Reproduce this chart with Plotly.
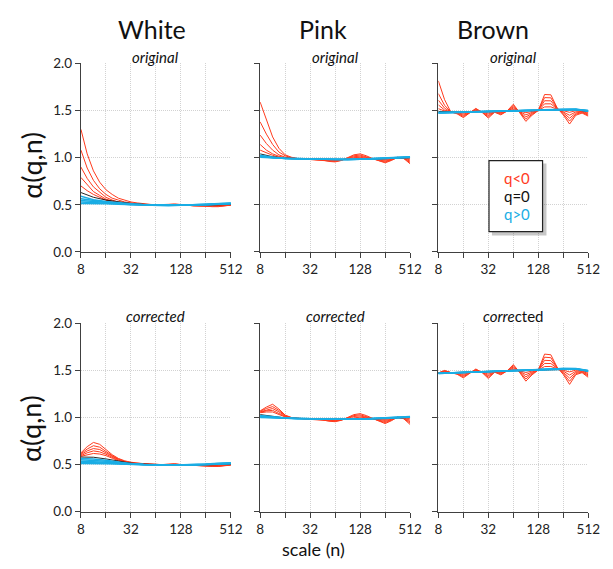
import plotly.graph_objects as go

W, H = 613, 569

# ---------------- data ----------------
# scale grids (n)
XR = [8, 9.51, 11.31, 13.45, 16, 19.03, 22.63, 26.91, 32, 38.05, 45.25, 53.82, 64,
      76.11, 90.51, 107.6, 128, 152.2, 181.0, 215.3, 256, 304.4, 362.0, 430.5, 512]
XB = [8, 11.31, 16, 22.63, 32, 45.25, 64, 90.51, 128, 181.0, 256, 362.0, 512]
tick_vals = [8, 16, 32, 64, 128, 256, 512]
tick_text = ["8", "", "32", "", "128", "", "512"]
y_ticks = [0, 0.5, 1.0, 1.5, 2.0]
y_tick_text = ["0.0", "0.5", "1.0", "1.5", "2.0"]
columns = ["White", "Pink", "Brown"]

# White, original
white_orig_neg = [
    [1.30, 1.04, 0.86, 0.74, 0.66, 0.61, 0.57, 0.55, 0.53, 0.52, 0.51, 0.505, 0.50, 0.50, 0.505, 0.51, 0.50, 0.495, 0.49, 0.49, 0.485, 0.48, 0.48, 0.49, 0.495],
    [1.08, 0.89, 0.76, 0.67, 0.61, 0.57, 0.55, 0.53, 0.52, 0.51, 0.505, 0.50, 0.50, 0.50, 0.505, 0.505, 0.50, 0.495, 0.49, 0.49, 0.485, 0.485, 0.485, 0.49, 0.495],
    [0.90, 0.78, 0.69, 0.63, 0.58, 0.55, 0.53, 0.52, 0.51, 0.505, 0.50, 0.50, 0.50, 0.50, 0.50, 0.505, 0.50, 0.495, 0.49, 0.49, 0.49, 0.485, 0.485, 0.49, 0.50],
    [0.79, 0.71, 0.64, 0.60, 0.56, 0.54, 0.52, 0.51, 0.505, 0.50, 0.50, 0.50, 0.50, 0.50, 0.50, 0.50, 0.50, 0.495, 0.49, 0.49, 0.49, 0.49, 0.49, 0.495, 0.50],
    [0.70, 0.65, 0.61, 0.58, 0.55, 0.53, 0.52, 0.51, 0.505, 0.50, 0.50, 0.50, 0.50, 0.50, 0.50, 0.50, 0.50, 0.495, 0.49, 0.49, 0.49, 0.49, 0.49, 0.495, 0.50],
]
white_orig_zero = [0.63, 0.58, 0.55, 0.53, 0.515, 0.505, 0.50, 0.50, 0.495, 0.495, 0.495, 0.50, 0.505]
white_orig_pos = [
    [0.59, 0.555, 0.535, 0.52, 0.51, 0.50, 0.50, 0.495, 0.495, 0.495, 0.50, 0.505, 0.51],
    [0.565, 0.545, 0.53, 0.515, 0.505, 0.50, 0.495, 0.495, 0.495, 0.495, 0.50, 0.505, 0.512],
    [0.545, 0.535, 0.52, 0.51, 0.505, 0.50, 0.495, 0.495, 0.495, 0.495, 0.50, 0.508, 0.515],
    [0.53, 0.525, 0.515, 0.51, 0.50, 0.50, 0.495, 0.495, 0.495, 0.50, 0.505, 0.51, 0.517],
    [0.515, 0.515, 0.51, 0.505, 0.50, 0.495, 0.495, 0.49, 0.495, 0.50, 0.505, 0.512, 0.52],
]

# Pink, original
pink_orig_neg = [
    [1.59, 1.40, 1.22, 1.10, 1.03, 1.005, 0.99, 0.985, 0.98, 0.98, 0.975, 0.96, 0.955, 0.97, 1.0, 1.03, 1.04, 1.02, 0.99, 0.965, 0.945, 0.97, 1.005, 0.99, 0.935],
    [1.38, 1.25, 1.14, 1.06, 1.02, 1.0, 0.99, 0.985, 0.981, 0.981, 0.976, 0.964, 0.96, 0.972, 0.996, 1.02, 1.028, 1.012, 0.989, 0.969, 0.954, 0.974, 1.003, 0.992, 0.948],
    [1.24, 1.15, 1.08, 1.03, 1.005, 0.995, 0.99, 0.985, 0.982, 0.982, 0.977, 0.968, 0.965, 0.974, 0.992, 1.01, 1.016, 1.004, 0.988, 0.973, 0.963, 0.978, 1.001, 0.994, 0.961],
    [1.14, 1.08, 1.04, 1.015, 1.0, 0.99, 0.99, 0.985, 0.983, 0.983, 0.978, 0.972, 0.97, 0.976, 0.988, 1.0, 1.004, 0.996, 0.987, 0.977, 0.972, 0.982, 0.999, 0.996, 0.974],
    [1.08, 1.05, 1.025, 1.005, 0.995, 0.99, 0.99, 0.985, 0.984, 0.984, 0.979, 0.976, 0.975, 0.978, 0.984, 0.99, 0.992, 0.988, 0.986, 0.981, 0.981, 0.986, 0.997, 0.998, 0.987],
]
pink_orig_zero = [1.04, 1.01, 0.995, 0.99, 0.985, 0.98, 0.98, 0.98, 0.98, 0.985, 0.99, 0.995, 1.0]
pink_orig_pos = [
    [1.025, 1.005, 0.995, 0.99, 0.985, 0.98, 0.98, 0.98, 0.98, 0.985, 0.99, 0.998, 1.002],
    [1.02, 1.0, 0.993, 0.988, 0.985, 0.982, 0.98, 0.98, 0.982, 0.986, 0.992, 1.0, 1.004],
    [1.015, 1.0, 0.992, 0.988, 0.985, 0.982, 0.98, 0.98, 0.983, 0.987, 0.993, 1.002, 1.006],
    [1.01, 0.998, 0.99, 0.987, 0.985, 0.982, 0.981, 0.981, 0.984, 0.988, 0.995, 1.003, 1.008],
    [1.005, 0.997, 0.99, 0.987, 0.985, 0.983, 0.982, 0.982, 0.985, 0.99, 0.997, 1.005, 1.01],
]

# Brown, original
brown_orig_neg = [
    [1.815, 1.615, 1.485, 1.465, 1.425, 1.477, 1.523, 1.48, 1.42, 1.482, 1.454, 1.495, 1.567, 1.478, 1.385, 1.45, 1.502, 1.67, 1.667, 1.53, 1.452, 1.357, 1.45, 1.473, 1.44],
    [1.68, 1.555, 1.485, 1.469, 1.437, 1.479, 1.516, 1.482, 1.434, 1.484, 1.462, 1.495, 1.553, 1.482, 1.408, 1.46, 1.502, 1.637, 1.635, 1.526, 1.464, 1.388, 1.462, 1.479, 1.45],
    [1.61, 1.525, 1.485, 1.473, 1.449, 1.481, 1.509, 1.484, 1.448, 1.486, 1.47, 1.495, 1.539, 1.486, 1.431, 1.47, 1.502, 1.604, 1.603, 1.522, 1.476, 1.419, 1.474, 1.485, 1.46],
    [1.56, 1.505, 1.485, 1.477, 1.461, 1.483, 1.502, 1.486, 1.462, 1.488, 1.478, 1.495, 1.525, 1.49, 1.454, 1.48, 1.502, 1.571, 1.571, 1.518, 1.488, 1.45, 1.486, 1.491, 1.47],
    [1.52, 1.495, 1.485, 1.481, 1.473, 1.485, 1.495, 1.488, 1.476, 1.49, 1.486, 1.495, 1.511, 1.494, 1.477, 1.49, 1.502, 1.538, 1.539, 1.514, 1.5, 1.481, 1.498, 1.497, 1.48],
]
brown_orig_zero = [1.49, 1.485, 1.485, 1.488, 1.49, 1.494, 1.497, 1.5, 1.502, 1.507, 1.51, 1.508, 1.49]
brown_orig_pos = [
    [1.48, 1.482, 1.484, 1.487, 1.49, 1.494, 1.497, 1.5, 1.503, 1.508, 1.512, 1.51, 1.493],
    [1.478, 1.481, 1.484, 1.487, 1.49, 1.494, 1.498, 1.501, 1.504, 1.509, 1.513, 1.511, 1.495],
    [1.476, 1.48, 1.484, 1.487, 1.491, 1.495, 1.498, 1.502, 1.505, 1.51, 1.514, 1.512, 1.497],
    [1.475, 1.479, 1.483, 1.487, 1.491, 1.495, 1.499, 1.502, 1.506, 1.511, 1.515, 1.513, 1.498],
    [1.474, 1.478, 1.483, 1.487, 1.491, 1.495, 1.499, 1.503, 1.507, 1.512, 1.516, 1.514, 1.5],
]

# White, corrected
white_corr_neg = [
    [0.625, 0.69, 0.735, 0.715, 0.66, 0.605, 0.565, 0.54, 0.525, 0.515, 0.51, 0.505, 0.50, 0.50, 0.505, 0.51, 0.50, 0.495, 0.49, 0.49, 0.485, 0.48, 0.48, 0.49, 0.495],
    [0.615, 0.665, 0.70, 0.685, 0.64, 0.595, 0.56, 0.535, 0.52, 0.512, 0.507, 0.503, 0.50, 0.50, 0.503, 0.507, 0.50, 0.495, 0.49, 0.49, 0.487, 0.483, 0.483, 0.49, 0.497],
    [0.605, 0.645, 0.67, 0.66, 0.625, 0.585, 0.553, 0.532, 0.518, 0.51, 0.505, 0.502, 0.50, 0.50, 0.502, 0.505, 0.50, 0.495, 0.492, 0.49, 0.488, 0.486, 0.486, 0.492, 0.498],
    [0.595, 0.625, 0.645, 0.635, 0.61, 0.577, 0.547, 0.528, 0.515, 0.508, 0.504, 0.501, 0.50, 0.50, 0.501, 0.503, 0.50, 0.496, 0.493, 0.492, 0.49, 0.488, 0.488, 0.494, 0.499],
    [0.588, 0.605, 0.618, 0.612, 0.595, 0.568, 0.54, 0.524, 0.512, 0.506, 0.503, 0.501, 0.50, 0.50, 0.50, 0.502, 0.50, 0.497, 0.494, 0.493, 0.492, 0.49, 0.49, 0.495, 0.50],
]
white_corr_zero = [0.58, 0.578, 0.56, 0.535, 0.515, 0.505, 0.50, 0.50, 0.495, 0.495, 0.495, 0.50, 0.505]
white_corr_pos = [
    [0.565, 0.56, 0.545, 0.525, 0.51, 0.502, 0.498, 0.495, 0.495, 0.495, 0.50, 0.505, 0.51],
    [0.55, 0.545, 0.535, 0.52, 0.507, 0.50, 0.497, 0.495, 0.495, 0.496, 0.50, 0.507, 0.512],
    [0.535, 0.533, 0.525, 0.515, 0.505, 0.50, 0.496, 0.495, 0.495, 0.497, 0.502, 0.509, 0.515],
    [0.522, 0.522, 0.518, 0.51, 0.503, 0.498, 0.495, 0.494, 0.495, 0.498, 0.504, 0.511, 0.517],
    [0.512, 0.513, 0.51, 0.506, 0.50, 0.497, 0.494, 0.493, 0.495, 0.499, 0.505, 0.513, 0.52],
]

# Pink, corrected
pink_corr_neg = [
    [1.07, 1.11, 1.14, 1.09, 1.025, 1.0, 0.99, 0.985, 0.98, 0.98, 0.975, 0.96, 0.955, 0.97, 1.0, 1.03, 1.04, 1.02, 0.99, 0.96, 0.935, 0.965, 1.005, 0.985, 0.925],
    [1.065, 1.095, 1.115, 1.075, 1.02, 0.998, 0.99, 0.985, 0.981, 0.981, 0.976, 0.964, 0.96, 0.972, 0.996, 1.02, 1.028, 1.012, 0.989, 0.965, 0.946, 0.97, 1.003, 0.988, 0.94],
    [1.06, 1.08, 1.095, 1.06, 1.015, 0.996, 0.99, 0.985, 0.982, 0.982, 0.977, 0.968, 0.965, 0.974, 0.992, 1.01, 1.016, 1.004, 0.988, 0.97, 0.957, 0.975, 1.001, 0.991, 0.955],
    [1.055, 1.07, 1.075, 1.045, 1.01, 0.995, 0.99, 0.985, 0.983, 0.983, 0.978, 0.972, 0.97, 0.976, 0.988, 1.0, 1.004, 0.996, 0.987, 0.975, 0.968, 0.98, 0.999, 0.994, 0.97],
    [1.05, 1.058, 1.058, 1.032, 1.005, 0.993, 0.99, 0.985, 0.984, 0.984, 0.979, 0.976, 0.975, 0.978, 0.984, 0.99, 0.992, 0.988, 0.986, 0.98, 0.979, 0.985, 0.997, 0.997, 0.985],
]
pink_corr_zero = [1.03, 1.01, 0.995, 0.99, 0.985, 0.98, 0.98, 0.98, 0.98, 0.985, 0.99, 0.995, 1.0]
pink_corr_pos = [
    [1.02, 1.005, 0.995, 0.99, 0.985, 0.98, 0.98, 0.98, 0.98, 0.985, 0.99, 0.998, 1.002],
    [1.015, 1.0, 0.993, 0.988, 0.985, 0.982, 0.98, 0.98, 0.982, 0.986, 0.992, 1.0, 1.004],
    [1.01, 0.999, 0.992, 0.988, 0.985, 0.982, 0.98, 0.98, 0.983, 0.987, 0.993, 1.002, 1.006],
    [1.005, 0.997, 0.99, 0.987, 0.985, 0.982, 0.981, 0.981, 0.984, 0.988, 0.995, 1.003, 1.008],
    [1.0, 0.996, 0.99, 0.987, 0.985, 0.983, 0.982, 0.982, 0.985, 0.99, 0.997, 1.005, 1.01],
]

# Brown, corrected
brown_corr_neg = [
    [1.472, 1.499, 1.476, 1.458, 1.42, 1.472, 1.514, 1.476, 1.413, 1.48, 1.452, 1.494, 1.561, 1.478, 1.385, 1.452, 1.504, 1.672, 1.665, 1.533, 1.455, 1.351, 1.454, 1.475, 1.425],
    [1.472, 1.494, 1.476, 1.462, 1.432, 1.474, 1.508, 1.478, 1.428, 1.482, 1.46, 1.494, 1.548, 1.482, 1.408, 1.462, 1.504, 1.639, 1.634, 1.529, 1.467, 1.384, 1.466, 1.481, 1.438],
    [1.472, 1.489, 1.476, 1.466, 1.444, 1.476, 1.502, 1.48, 1.443, 1.484, 1.468, 1.494, 1.535, 1.486, 1.431, 1.472, 1.504, 1.606, 1.603, 1.525, 1.479, 1.417, 1.478, 1.487, 1.451],
    [1.472, 1.484, 1.476, 1.47, 1.456, 1.478, 1.496, 1.482, 1.458, 1.486, 1.476, 1.494, 1.522, 1.49, 1.454, 1.482, 1.504, 1.573, 1.572, 1.521, 1.491, 1.45, 1.49, 1.493, 1.464],
    [1.472, 1.479, 1.476, 1.474, 1.468, 1.48, 1.49, 1.484, 1.473, 1.488, 1.484, 1.494, 1.509, 1.494, 1.477, 1.492, 1.504, 1.54, 1.541, 1.517, 1.503, 1.483, 1.502, 1.499, 1.477],
]
brown_corr_zero = [1.472, 1.476, 1.48, 1.484, 1.488, 1.492, 1.496, 1.5, 1.504, 1.51, 1.514, 1.513, 1.49]
brown_corr_pos = [
    [1.47, 1.474, 1.479, 1.484, 1.488, 1.492, 1.496, 1.5, 1.504, 1.51, 1.515, 1.514, 1.49],
    [1.469, 1.474, 1.479, 1.484, 1.489, 1.493, 1.497, 1.501, 1.505, 1.511, 1.516, 1.515, 1.492],
    [1.468, 1.473, 1.478, 1.484, 1.489, 1.493, 1.497, 1.502, 1.506, 1.512, 1.517, 1.516, 1.494],
    [1.467, 1.473, 1.478, 1.484, 1.489, 1.494, 1.498, 1.502, 1.507, 1.513, 1.518, 1.517, 1.496],
    [1.466, 1.472, 1.478, 1.484, 1.49, 1.494, 1.498, 1.503, 1.508, 1.514, 1.519, 1.518, 1.498],
]

# ---------------- styling / layout ----------------
RED = "#FF3B1E"
BLUE = "#1AADE4"
BLACK = "#111111"
FONT = "Lato"
AXC = "#404040"
GRID = "#d2d2d2"

panels = [
    (white_orig_neg, white_orig_zero, white_orig_pos, "<i>original</i>"),
    (pink_orig_neg, pink_orig_zero, pink_orig_pos, "<i>original</i>"),
    (brown_orig_neg, brown_orig_zero, brown_orig_pos, "<i>original</i>"),
    (white_corr_neg, white_corr_zero, white_corr_pos, "<i>corrected</i>"),
    (pink_corr_neg, pink_corr_zero, pink_corr_pos, "<i>corrected</i>"),
    (brown_corr_neg, brown_corr_zero, brown_corr_pos, "<i>corre</i>cted"),
]

xpix = [(79, 233), (263, 417), (446, 600)]
ypix = [(57, 251), (324.3, 518.3)]

def px(x):
    return x / W

def py(y):
    return 1 - y / H

fig = go.Figure()
layout = dict(
    width=W, height=H, margin=dict(l=0, r=0, t=0, b=0),
    paper_bgcolor="white", plot_bgcolor="white", showlegend=False,
    font=dict(family=FONT, color="#222222"),
)
annotations = []

for i, (neg, zero, pos, sub) in enumerate(panels):
    r, c = divmod(i, 3)
    k = "" if i == 0 else str(i + 1)
    xa, ya = "x" + k, "y" + k
    for ys in neg:
        fig.add_trace(go.Scatter(x=XR, y=ys, mode="lines", xaxis=xa, yaxis=ya,
                                 line=dict(color=RED, width=1)))
    fig.add_trace(go.Scatter(x=XB, y=zero, mode="lines", xaxis=xa, yaxis=ya,
                             line=dict(color=BLACK, width=0.9)))
    for ys in pos:
        fig.add_trace(go.Scatter(x=XB, y=ys, mode="lines", xaxis=xa, yaxis=ya,
                                 line=dict(color=BLUE, width=1.5)))
    x0, x1 = xpix[c]
    y0, y1 = ypix[r]
    common = dict(
        ticks="outside", ticklen=5, tickcolor=AXC, showline=True, linecolor=AXC,
        linewidth=1.3, showgrid=True, gridcolor=GRID, griddash="1px,1px",
        gridwidth=1, zeroline=False, tickfont=dict(family=FONT, size=13.5, color="#222"),
        fixedrange=True,
    )
    layout["xaxis" + k] = dict(
        domain=[px(x0), px(x1)], anchor=ya, type="log",
        range=[0.90309, 2.70927], tickvals=tick_vals, ticktext=tick_text, **common,
    )
    layout["yaxis" + k] = dict(
        domain=[py(y1), py(y0)], anchor=xa, range=[0, 2],
        tickvals=y_ticks, ticktext=y_tick_text, showticklabels=(c == 0), **common,
    )
    annotations.append(dict(text=sub, x=px((x0 + x1) / 2), y=py(y0 - 7), xref="paper",
                            yref="paper", showarrow=False, xanchor="center",
                            yanchor="middle", font=dict(family=FONT, size=15, color="#111")))

# column titles
for name, cx in zip(columns, [152, 328, 502]):
    annotations.append(dict(text=name, x=px(cx), y=py(22), xref="paper", yref="paper",
                            showarrow=False, xanchor="center", yanchor="middle",
                            font=dict(family=FONT, size=25, color="#111")))
# y titles
for cy in [162, 433]:
    annotations.append(dict(text="α(q,n)", x=px(28), y=py(cy), xref="paper", yref="paper",
                            showarrow=False, xanchor="center", yanchor="middle", textangle=-90,
                            font=dict(family=FONT, size=27, color="#111")))
# x title
annotations.append(dict(text="scale (n)", x=px(318), y=py(557), xref="paper", yref="paper",
                        showarrow=False, xanchor="center", yanchor="middle",
                        font=dict(family=FONT, size=18, color="#111")))

# legend box
shapes = [
    dict(type="rect", xref="paper", yref="paper", x0=px(501), x1=px(557), y0=py(234),
         y1=py(160), fillcolor="rgba(0,0,0,0.22)", line=dict(width=0), layer="above"),
    dict(type="rect", xref="paper", yref="paper", x0=px(498), x1=px(553), y0=py(230),
         y1=py(157), fillcolor="white", line=dict(color="#222", width=1.2), layer="above"),
]
for txt, col, ly in [("q&lt;0", RED, 175), ("q=0", BLACK, 193), ("q&gt;0", BLUE, 212)]:
    annotations.append(dict(text=txt, x=px(527), y=py(ly), xref="paper", yref="paper",
                            showarrow=False, xanchor="center", yanchor="middle",
                            font=dict(family=FONT, size=15, color=col)))

layout["annotations"] = annotations
layout["shapes"] = shapes
fig.update_layout(**layout)
fig.write_html(
    "out.html",
    config={"displayModeBar": False},
    post_script="document.body.style.margin='0';document.body.style.padding='0';"
                "document.documentElement.style.overflow='hidden';",
)
